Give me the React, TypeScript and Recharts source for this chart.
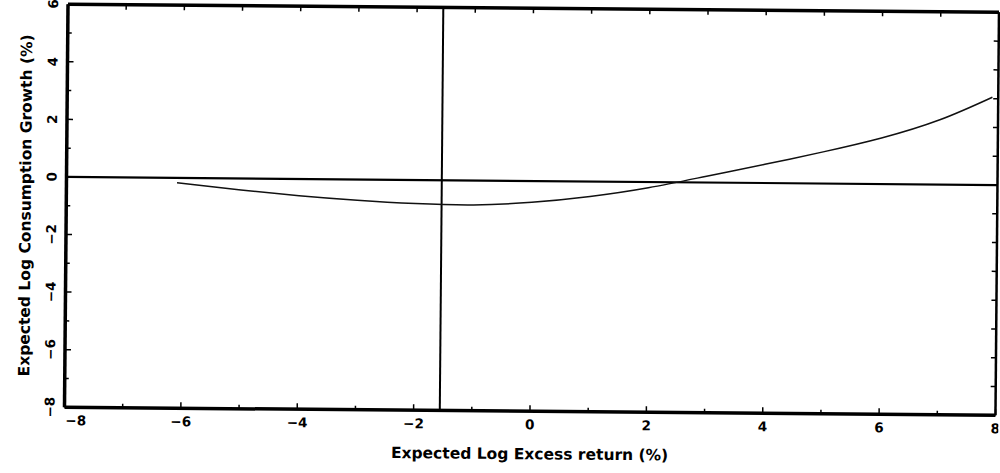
import { Label, Line, LineChart, ReferenceLine, XAxis, YAxis } from "recharts";

// fitted consumption-growth curve
const curveX = [-6.1, -5, -4, -3, -2, -1, 0, 1, 2, 3, 4, 5, 6, 7, 7.9];
const curveY = [-0.17, -0.4, -0.58, -0.72, -0.82, -0.85, -0.74, -0.52, -0.2, 0.22, 0.65, 1.1, 1.6, 2.25, 3.05];

// reference lines
const zeroGrowth = 0;
const excessReturnMark = -1.55;

const xTicks = [-8, -7, -6, -5, -4, -3, -2, -1, 0, 1, 2, 3, 4, 5, 6, 7, 8];
const yTicks = [-8, -7, -6, -5, -4, -3, -2, -1, 0, 1, 2, 3, 4, 5, 6];

const xTitle = "Expected Log Excess return (%)";
const yTitle = "Expected Log Consumption Growth (%)";

const data = curveX.map((x, i) => ({ x, y: curveY[i] }));

const FONT = "'DejaVu Sans', sans-serif";

const fmt = (v: number) => (v < 0 ? `\u2212${-v}` : `${v}`);

const BottomTick = (props: any) => {
  const { x, y, payload } = props;
  const v = payload.value as number;
  const major = v % 2 === 0;
  const first = v === -8;
  return (
    <g>
      <line x1={x} y1={y} x2={x} y2={y - (major ? 6 : 4)} stroke="#000" strokeWidth={1.5} />
      {major && (
        <text
          x={first ? x + 1 : x}
          y={y + 18}
          textAnchor={first ? "start" : "middle"}
          fontFamily={FONT}
          fontWeight="bold"
          fontSize={13.5}
          fill="#000"
        >
          {fmt(v)}
        </text>
      )}
    </g>
  );
};

const TopTick = (props: any) => {
  const { x, y } = props;
  return <line x1={x} y1={y} x2={x} y2={y + 5} stroke="#000" strokeWidth={1.5} />;
};

const LeftTick = (props: any) => {
  const { x, y, payload } = props;
  const v = payload.value as number;
  const major = v % 2 === 0;
  const tx = x - 15;
  return (
    <g>
      <line x1={x} y1={y} x2={x + (major ? 6 : 4)} y2={y} stroke="#000" strokeWidth={1.5} />
      {major && (
        <text
          x={tx}
          y={y}
          transform={`rotate(-90, ${tx}, ${y})`}
          textAnchor="middle"
          dominantBaseline="central"
          fontFamily={FONT}
          fontWeight="bold"
          fontSize={13.5}
          fill="#000"
        >
          {fmt(v)}
        </text>
      )}
    </g>
  );
};

const RightTick = (props: any) => {
  const { x, y } = props;
  return <line x1={x} y1={y} x2={x - 5} y2={y} stroke="#000" strokeWidth={1.5} />;
};

export default function App() {
  return (
    <div
      style={{
        position: "absolute",
        left: 0,
        top: 0,
        width: 1000,
        height: 473,
        background: "#fff",
        transform: "rotate(0.5deg)",
      }}
    >
      <LineChart width={1000} height={473} data={data} margin={{ top: 7, right: 2, left: 6, bottom: 2 }}>
        <XAxis
          dataKey="x"
          type="number"
          domain={[-8, 8]}
          ticks={xTicks}
          interval={0}
          allowDataOverflow
          height={60}
          tickSize={0}
          tickMargin={0}
          tickLine={false}
          tick={<BottomTick />}
          axisLine={{ stroke: "#000", strokeWidth: 3.5 }}
        >
          <Label
            value={xTitle}
            position="insideBottom"
            offset={12}
            style={{ fontFamily: FONT, fontWeight: "bold", fontSize: 15.5, fill: "#000" }}
          />
        </XAxis>
        <XAxis
          xAxisId="top"
          dataKey="x"
          orientation="top"
          type="number"
          domain={[-8, 8]}
          ticks={xTicks}
          interval={0}
          allowDataOverflow
          height={1}
          tickSize={0}
          tickMargin={0}
          tickLine={false}
          tick={<TopTick />}
          axisLine={{ stroke: "#000", strokeWidth: 3.5 }}
        />
        <YAxis
          type="number"
          domain={[-8, 6]}
          ticks={yTicks}
          interval={0}
          allowDataOverflow
          width={60}
          tickSize={0}
          tickMargin={0}
          tickLine={false}
          tick={<LeftTick />}
          axisLine={{ stroke: "#000", strokeWidth: 3.5 }}
        >
          <Label
            value={yTitle}
            angle={-90}
            position="insideLeft"
            offset={19}
            style={{ textAnchor: "middle", fontFamily: FONT, fontWeight: "bold", fontSize: 15.5, fill: "#000" }}
          />
        </YAxis>
        <YAxis
          yAxisId="right"
          orientation="right"
          type="number"
          domain={[-8, 6]}
          ticks={yTicks}
          interval={0}
          allowDataOverflow
          width={1}
          tickSize={0}
          tickMargin={0}
          tickLine={false}
          tick={<RightTick />}
          axisLine={{ stroke: "#000", strokeWidth: 2.5 }}
        />
        <ReferenceLine y={zeroGrowth} stroke="#000" strokeWidth={2.2} />
        <ReferenceLine x={excessReturnMark} stroke="#000" strokeWidth={2} />
        <Line
          type="natural"
          dataKey="y"
          stroke="#111"
          strokeWidth={1.5}
          dot={false}
          isAnimationActive={false}
        />
      </LineChart>
    </div>
  );
}
